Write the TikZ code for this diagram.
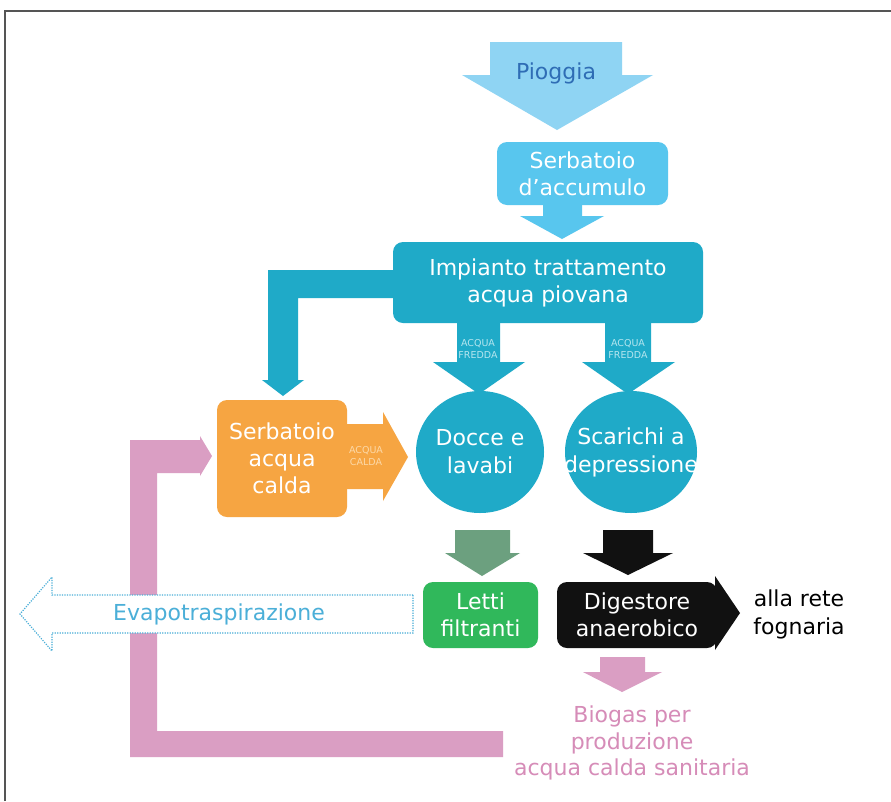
\documentclass[tikz,border=0pt]{standalone}
\usepackage{fontspec}
\setmainfont{DejaVu Sans}
\usetikzlibrary{shapes.geometric}
\definecolor{framec}{HTML}{555555}
\definecolor{pioggia}{HTML}{8FD4F3}
\definecolor{piotxt}{HTML}{2F6DB5}
\definecolor{accum}{HTML}{58C6EE}
\definecolor{teal}{HTML}{1FAAC8}
\definecolor{orangec}{HTML}{F6A542}
\definecolor{pinkc}{HTML}{DA9EC3}
\definecolor{pinktxt}{HTML}{D68CB8}
\definecolor{greenarr}{HTML}{6CA07F}
\definecolor{greenbox}{HTML}{30B85B}
\definecolor{blackc}{HTML}{111111}
\definecolor{evap}{HTML}{4BAFD8}
\definecolor{tinytxt}{HTML}{B5E6EF}
\definecolor{tinyorange}{HTML}{FCD9A8}
\begin{document}
\begin{tikzpicture}[x=1pt,y=-1pt,
  tinylbl/.style={font=\fontsize{9.5}{12}\selectfont, align=center, inner sep=0pt},
  rbox/.style={rounded corners=10pt, inner sep=0pt, align=center, text=white,
    font=\fontsize{22}{27}\selectfont},
  disctxt/.style={inner sep=0pt, align=center, text=white,
    font=\fontsize{22}{28}\selectfont}]
\useasboundingbox (0,0) rectangle (891,801);
\fill[white] (0,0) rectangle (891,801);
\draw[line width=2pt, framec] (5,801) -- (5,11) -- (891,11);

% Pioggia
\fill[pioggia] (490,42) -- (622,42) -- (622,75) -- (653,75) -- (557,130) -- (462,75) -- (490,75) -- cycle;
\node[font=\fontsize{22}{22}\selectfont, text=piotxt, inner sep=0pt] (pio) at (556,73) {Pioggia};

% Serbatoio d'accumulo
\node[rbox, fill=accum, minimum width=171pt, minimum height=63pt] (acc) at (582.5,173.5) {Serbatoio\\d'accumulo};
\fill[accum] (543,204) -- (582,204) -- (582,216) -- (604,216) -- (562,239) -- (520,216) -- (543,216) -- cycle;

% Impianto
\node[rbox, fill=teal, minimum width=310pt, minimum height=81pt] (imp) at (548,282.5) {Impianto trattamento\\acqua piovana};
\fill[teal] (395,270) -- (268,270) -- (268,380) -- (262,380) -- (283,396) -- (304,380) -- (298,380) -- (298,298) -- (395,298) -- cycle;
\fill[teal] (457,320) -- (500,320) -- (500,362) -- (525,362) -- (479,394) -- (433,362) -- (457,362) -- cycle;
\fill[teal] (605,320) -- (651,320) -- (651,362) -- (675,362) -- (628,394) -- (582,362) -- (605,362) -- cycle;
\node[tinylbl, text=tinytxt] (af1) at (478,349) {ACQUA\\FREDDA};
\node[tinylbl, text=tinytxt] (af2) at (628,349) {ACQUA\\FREDDA};

% Circles
\fill[teal] (480,452) ellipse [x radius=64pt, y radius=61pt];
\node[disctxt] (doc) at (480,452) {Docce e\\lavabi};
\fill[teal] (631,452) ellipse [x radius=66pt, y radius=61pt];
\node[disctxt] (sca) at (631,452) {Scarichi a\\depressione};

% Pink loop
\fill[pinkc] (130,757) -- (503,757) -- (503,731) -- (157,731) -- (157,473) -- (200,473) -- (200,476) -- (212,456) -- (200,436) -- (200,440) -- (130,440) -- cycle;

% Serbatoio acqua calda
\node[rbox, fill=orangec, minimum width=130pt, minimum height=117pt] (cal) at (282,458.5) {Serbatoio\\acqua\\calda};
\fill[orangec] (345,424) -- (383,424) -- (383,412) -- (408,457) -- (383,501) -- (383,489) -- (345,489) -- cycle;
\node[tinylbl, text=tinyorange] (ac) at (366,456) {ACQUA\\CALDA};

% Down arrows
\fill[greenarr] (455,530) -- (510,530) -- (510,553) -- (520,553) -- (482,576) -- (445,553) -- (455,553) -- cycle;
\fill[blackc] (603,530) -- (653,530) -- (653,553) -- (673,553) -- (628,575) -- (583,553) -- (603,553) -- cycle;

% Evapotraspirazione
\filldraw[fill=white, draw=evap, line width=1.2pt, dash pattern=on 1.2pt off 1.3pt]
  (413,595) -- (52,595) -- (52,577) -- (20,614) -- (52,651) -- (52,633) -- (413,633) -- cycle;
\node[font=\fontsize{22}{22}\selectfont, text=evap, inner sep=0pt] (eva) at (219,614) {Evapotraspirazione};

% Letti filtranti
\node[rbox, fill=greenbox, minimum width=115pt, minimum height=66pt] (let) at (480.5,615) {Letti\\filtranti};

% Digestore
\fill[blackc] (715,576) -- (740,613) -- (715,650) -- cycle;
\node[rbox, fill=blackc, minimum width=160pt, minimum height=66pt, text width=150pt] (dig) at (637,615) {Digestore\\anaerobico};
\node[font=\fontsize{22}{28}\selectfont, text=black, align=center, inner sep=0pt] (rete) at (799,614) {alla rete\\fognaria};

% Biogas
\fill[pinkc] (600,657) -- (645,657) -- (645,672) -- (662,672) -- (622,692) -- (583,672) -- (600,672) -- cycle;
\node[font=\fontsize{22}{26.5}\selectfont, text=pinktxt, align=center, inner sep=0pt] (bio) at (632,743) {Biogas per\\produzione\\acqua calda sanitaria};
\end{tikzpicture}
\end{document}
